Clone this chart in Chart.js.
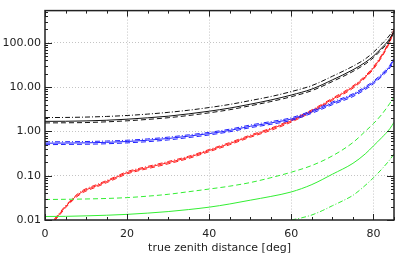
<!DOCTYPE html>
<html>
<head>
<meta charset="utf-8">
<script src="https://cdn.jsdelivr.net/npm/chart.js@4"></script>
<style>
  html, body { margin: 0; padding: 0; background: #fff; }
  #chart { display: block; }
</style>
</head>
<body>
<canvas id="chart" width="413" height="258"></canvas>
<script>
// zenith distance grid (deg) for black, blue and green curves
const zAngle = [0, 5, 10, 15, 20, 25, 30, 35, 40, 45, 50, 55, 60, 65, 70, 75, 78, 80, 82, 84, 85];

const blackSolid = [1.68, 1.69, 1.72, 1.78, 1.88, 2.02, 2.2, 2.48, 2.85, 3.35, 4.1, 5.1, 6.6, 9.0, 14.5, 24.5, 36, 50, 76, 125, 185];
const blackDash = [1.55, 1.56, 1.58, 1.64, 1.73, 1.86, 2.03, 2.28, 2.62, 3.08, 3.78, 4.7, 6.05, 8.3, 13.3, 22.5, 33, 46, 70, 115, 170];
const blackDashDot = [2.05, 2.06, 2.1, 2.17, 2.28, 2.45, 2.68, 3.0, 3.45, 4.05, 4.95, 6.1, 7.9, 10.8, 17.5, 29.5, 43, 61, 93, 150, 210];

const blueSolid = [0.54, 0.545, 0.55, 0.565, 0.59, 0.63, 0.69, 0.78, 0.89, 1.05, 1.3, 1.55, 1.9, 2.75, 4.3, 6.6, 9.5, 12.7, 18.5, 29, 42];
const blueDash = [0.50, 0.507, 0.512, 0.525, 0.55, 0.585, 0.64, 0.725, 0.83, 0.98, 1.21, 1.44, 1.77, 2.56, 4.0, 6.1, 8.8, 11.8, 17.2, 27, 39];
const blueDashDot = [0.58, 0.583, 0.59, 0.605, 0.63, 0.675, 0.74, 0.835, 0.95, 1.12, 1.39, 1.66, 2.03, 2.94, 4.6, 7.05, 10.2, 13.6, 19.8, 31, 45];

const greenSolid = [0.012, 0.0121, 0.0124, 0.0128, 0.0134, 0.0143, 0.0155, 0.0172, 0.0195, 0.023, 0.028, 0.034, 0.043, 0.063, 0.108, 0.19, 0.31, 0.47, 0.72, 1.15, 1.6];
const greenDash = [0.029, 0.0293, 0.0298, 0.0306, 0.032, 0.0345, 0.038, 0.0435, 0.05, 0.058, 0.07, 0.09, 0.12, 0.17, 0.28, 0.56, 1.0, 1.5, 2.4, 4.3, 6.0];

// green dash-dot only appears above 60 deg
const zAngleGreenDD = [60, 62.5, 65, 67.5, 70, 72.5, 75, 77.5, 80, 82, 84, 85];
const greenDashDot = [0.0100, 0.0112, 0.013, 0.0162, 0.021, 0.027, 0.036, 0.055, 0.09, 0.14, 0.23, 0.31];

// red curves start near 2.3 deg
const zAngleRed = [2.3, 3.5, 5, 6, 7.5, 9, 10, 12.5, 15, 17.5, 20, 22.5, 25, 30, 35, 40, 45, 50, 55, 60, 65, 70, 75, 78, 80, 82, 83, 84, 85];
const redSolid = [0.0100, 0.0135, 0.020, 0.025, 0.034, 0.043, 0.048, 0.059, 0.074, 0.093, 0.117, 0.135, 0.153, 0.197, 0.26, 0.37, 0.53, 0.78, 1.12, 1.72, 2.9, 5.3, 10, 17, 27, 50, 72, 110, 195];
const redDash = [0.0096, 0.0128, 0.0188, 0.0236, 0.032, 0.0405, 0.045, 0.0555, 0.0695, 0.0875, 0.11, 0.127, 0.144, 0.185, 0.245, 0.348, 0.5, 0.735, 1.05, 1.62, 2.73, 5.0, 9.4, 16, 25.4, 47, 68, 104, 185];
const redDashDot = [0.0106, 0.0143, 0.0212, 0.0265, 0.036, 0.0456, 0.051, 0.0625, 0.078, 0.098, 0.124, 0.143, 0.162, 0.209, 0.275, 0.39, 0.56, 0.825, 1.18, 1.82, 3.07, 5.6, 10.6, 18, 28.6, 53, 76, 116, 205];

// axis ticks
const xTicks = [0, 20, 40, 60, 80];
const yTicks = [0.01, 0.1, 1, 10, 100];
const xTitle = 'true zenith distance [deg]';

const DASH = [5, 3];
const DASHDOT = [5, 2, 1, 2];

function pts(xs, ys) {
    return ys.map((v, i) => ({ x: xs[i], y: v }));
}

function line(xs, ys, color, dash, width) {
    return {
        data: pts(xs, ys),
        borderColor: color,
        borderWidth: width || 1,
        borderDash: dash || [],
        pointRadius: 0,
        fill: false,
        cubicInterpolationMode: 'monotone'
    };
}

function isDecade(v) {
    const l = Math.log10(v);
    return Math.abs(l - Math.round(l)) < 1e-6;
}

// minor log ticks 2..9 of each decade, up to the top of the axis
const yMinor = [];
yTicks.forEach(d => {
    for (let k = 2; k <= 9; k++) {
        if (d * k <= 530) yMinor.push(d * k);
    }
});

const frameTicks = {
    id: 'frameTicks',
    afterDraw(chart) {
        const { ctx, chartArea: a, scales: { x, y } } = chart;
        ctx.save();
        ctx.strokeStyle = '#222';
        ctx.lineWidth = 1;
        ctx.beginPath();
        for (let v = 0; v <= 85; v += 5) {
            const px = Math.round(x.getPixelForValue(v)) + 0.5;
            const len = xTicks.includes(v) ? 6 : 3;
            ctx.moveTo(px, a.bottom); ctx.lineTo(px, a.bottom - len);
            ctx.moveTo(px, a.top); ctx.lineTo(px, a.top + len);
        }
        yTicks.concat(yMinor).forEach(v => {
            const py = Math.round(y.getPixelForValue(v)) + 0.5;
            const len = isDecade(v) ? 7 : 3;
            ctx.moveTo(a.left, py); ctx.lineTo(a.left + len, py);
            ctx.moveTo(a.right, py); ctx.lineTo(a.right - len, py);
        });
        ctx.stroke();
        ctx.lineWidth = 1.5;
        ctx.strokeRect(a.left, a.top, a.right - a.left, a.bottom - a.top);
        ctx.restore();
    }
};

const font = { family: "'DejaVu Sans', sans-serif", size: 11 };

new Chart(document.getElementById('chart'), {
    type: 'line',
    data: {
        datasets: [
            line(zAngle, greenSolid, '#33ee33'),
            line(zAngle, greenDash, '#33ee33', DASH),
            line(zAngleGreenDD, greenDashDot, '#33ee33', DASHDOT),
            line(zAngle, blackSolid, '#111'),
            line(zAngle, blackDash, '#111', DASH),
            line(zAngle, blackDashDot, '#111', DASHDOT),
            line(zAngle, blueSolid, '#2020ff'),
            line(zAngle, blueDash, '#2020ff', DASH),
            line(zAngle, blueDashDot, '#2020ff', DASHDOT),
            line(zAngleRed, redSolid, '#ff2020'),
            line(zAngleRed, redDash, '#ff2020', DASH),
            line(zAngleRed, redDashDot, '#ff2020', DASHDOT)
        ]
    },
    options: {
        responsive: false,
        animation: false,
        layout: { padding: { top: 9, right: 19, left: 0, bottom: 0 } },
        plugins: {
            legend: { display: false },
            tooltip: { enabled: false }
        },
        scales: {
            x: {
                type: 'linear',
                min: 0,
                max: 85,
                afterFit: s => { s.height = 38; },
                afterBuildTicks: s => { s.ticks = xTicks.map(v => ({ value: v })); },
                border: { display: false, dash: [1, 2] },
                grid: {
                    drawTicks: false,
                    color: c => (c.tick && c.tick.value !== 0) ? '#c4c4c4' : 'rgba(0,0,0,0)'
                },
                ticks: {
                    autoSkip: false,
                    maxRotation: 0,
                    padding: 8,
                    color: '#222',
                    font: font
                },
                title: {
                    display: true,
                    text: xTitle,
                    color: '#222',
                    font: font,
                    padding: { top: 0, bottom: 3 }
                }
            },
            y: {
                type: 'logarithmic',
                min: 0.01,
                max: 530,
                afterFit: s => { s.width = 45; },
                afterBuildTicks: s => { s.ticks = yTicks.map(v => ({ value: v })); },
                border: { display: false, dash: [1, 2] },
                grid: {
                    drawTicks: false,
                    color: c => (c.tick && c.tick.value > 0.011) ? '#c4c4c4' : 'rgba(0,0,0,0)'
                },
                ticks: {
                    autoSkip: false,
                    padding: 4,
                    color: '#222',
                    font: font,
                    callback: v => Number(v).toFixed(2)
                }
            }
        }
    },
    plugins: [frameTicks]
});
</script>
</body>
</html>
